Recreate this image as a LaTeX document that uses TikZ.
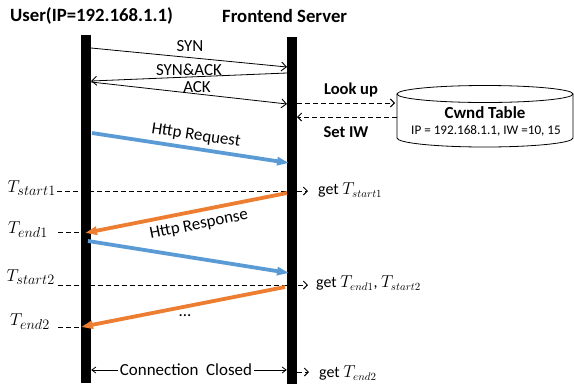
\documentclass[tikz,border=0pt]{standalone}
\usepackage{fontspec}
\setmainfont{Carlito}
\usetikzlibrary{arrows.meta}
\definecolor{reqblue}{HTML}{5B9BD5}
\definecolor{resorange}{HTML}{ED7D31}
\begin{document}
\begin{tikzpicture}[x=1bp,y=-1bp,
  font=\fontsize{17}{20}\selectfont,
  bar/.style={fill=black,inner sep=0pt,minimum width=10bp},
  title/.style={font=\fontsize{18.8}{22}\selectfont\bfseries,inner sep=0pt},
  lbl/.style={inner sep=0pt},
  msg/.style={line width=0.8bp,-{Straight Barb[length=5bp,width=9bp,line width=0.9bp]}},
  dmsg/.style={line width=0.8bp,dash pattern=on 5bp off 3bp,-{Straight Barb[length=4bp,width=8bp,line width=1bp]}},
  tick/.style={line width=0.8bp,dash pattern=on 5bp off 3bp},
  req/.style={reqblue,line width=3.8bp,-{Triangle[length=12bp,width=8bp]}},
  res/.style={resorange,line width=3.8bp,-{Triangle[length=12bp,width=8bp]}},
  tl/.style={inner sep=0pt,font=\fontsize{19}{22}\selectfont},
  getl/.style={inner sep=0pt,anchor=west,font=\fontsize{16}{19}\selectfont}]
\useasboundingbox (0,0) rectangle (574,387);
% titles
\node[title,anchor=west] (tu) at (10,16) {User(IP=192.168.1.1)};
\node[title,anchor=west] (ts) at (222,16) {Frontend Server};
% lifelines
\node[bar,minimum height=348bp] (L) at (86,209) {};
\node[bar,minimum height=347bp] (R) at (292,210.5) {};
% handshake
\coordinate (a1) at (91,48);  \coordinate (b1) at (287,67);
\coordinate (b2) at (287,73); \coordinate (a2) at (91,81);
\coordinate (a3) at (91,82);  \coordinate (b3) at (287,104);
\draw[msg] (a1) -- (b1);
\draw[msg] (b2) -- (a2);
\draw[msg] (a3) -- (b3);
\node[lbl] (lsyn) at (190,46) {SYN};
\node[lbl] (lsa) at (189,70) {SYN\&ACK};
\node[lbl] (lack) at (197,87) {ACK};
% cylinder
\draw[line width=0.8bp,fill=white] (397,94) -- (397,138) arc[start angle=180,end angle=0,x radius=88,y radius=9] -- (573,94);
\draw[line width=0.8bp] (485,94) ellipse [x radius=88,y radius=8.5];
\node[inner sep=0pt,minimum width=176bp,minimum height=61bp] (cw) at (485,116.5) {};
\node[lbl,font=\fontsize{17}{20}\selectfont\bfseries] (cwt) at (485,113) {Cwnd Table};
\node[lbl,font=\fontsize{13.2}{16}\selectfont] (cwi) at (486,131) {IP = 192.168.1.1, IW =10, 15};
% lookup / set IW
\coordinate (lu1) at (297,103); \coordinate (lu2) at (395,103);
\coordinate (si1) at (397,117); \coordinate (si2) at (297,117);
\draw[dmsg] (lu1) -- (lu2);
\draw[dmsg] (si1) -- (si2);
\node[lbl,font=\fontsize{16.6}{19}\selectfont\bfseries] (llu) at (351,90) {Look up};
\node[lbl,font=\fontsize{16.6}{19}\selectfont\bfseries] (lsi) at (346,132) {Set IW};
% request 1
\coordinate (q1s) at (92,133); \coordinate (q1e) at (289,163);
\draw[req] (q1s) -- (q1e);
\node[lbl,rotate=-8.7] (lq1) at (196,136) {Http Request};
% T_start1
\coordinate (ts1a) at (57,191); \coordinate (ts1b) at (308,191);
\draw[dmsg] (ts1a) -- (ts1b);
\node[tl,anchor=east] (tst1) at (56,188) {$T_{start1}$};
\node[getl] (g1) at (318,190) {get $T_{start1}$};
% response 1
\coordinate (p1s) at (287,193); \coordinate (p1e) at (85,233);
\draw[res] (p1s) -- (p1e);
\node[lbl,rotate=11.3] (lp1) at (199,225) {Http Response};
% T_end1
\coordinate (te1a) at (58,232); \coordinate (te1b) at (82,232);
\draw[tick] (te1a) -- (te1b);
\node[tl,anchor=east] (tend1) at (48,230) {$T_{end1}$};
% request 2
\coordinate (q2s) at (88,241); \coordinate (q2e) at (289,273);
\draw[req] (q2s) -- (q2e);
% T_start2
\coordinate (ts2a) at (58,285); \coordinate (ts2b) at (308,285);
\draw[dmsg] (ts2a) -- (ts2b);
\node[tl,anchor=east] (tst2) at (55,277) {$T_{start2}$};
\node[getl] (g2) at (316,283) {get $T_{end1}$, $T_{start2}$};
% response 2
\coordinate (p2s) at (285,287); \coordinate (p2e) at (81,327);
\draw[res] (p2s) -- (p2e);
\node[lbl] (dots) at (185,316) {...};
% T_end2
\coordinate (te2a) at (58,327); \coordinate (te2b) at (82,327);
\draw[tick] (te2a) -- (te2b);
\node[tl,anchor=east] (tend2) at (50,322) {$T_{end2}$};
% connection closed
\node[lbl,fill=white,inner xsep=2bp] (cc) at (186,370) {Connection\ \ Closed};
\draw[line width=0.8bp,-{Straight Barb[length=4bp,width=6bp]}] (cc.west) -- (L.east |- cc.west);
\draw[line width=0.8bp,-{Straight Barb[length=4bp,width=6bp]}] (cc.east) -- (R.west |- cc.east);
\coordinate (cd1) at (297,372); \coordinate (cd2) at (309,372);
\draw[dmsg] (cd1) -- (cd2);
\node[getl] (g3) at (319,373) {get $T_{end2}$};
\end{tikzpicture}
\end{document}
